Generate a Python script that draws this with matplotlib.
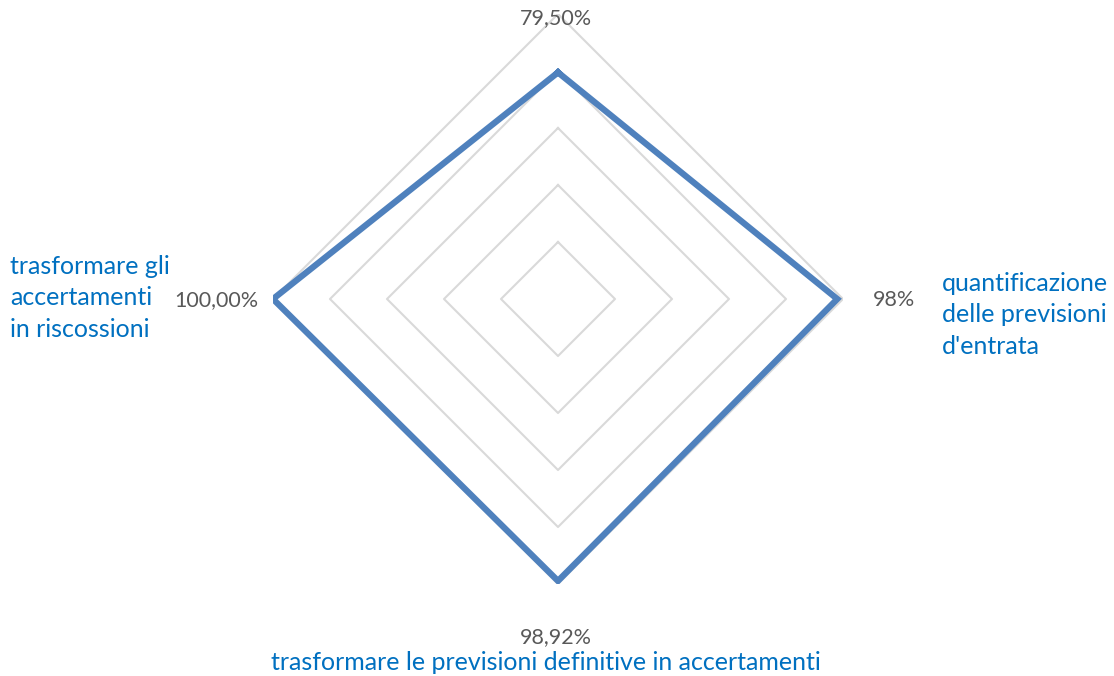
import numpy as np
import matplotlib
matplotlib.use("Agg")
import matplotlib.pyplot as plt

categories = ["79,50%", "98%", "98,92%", "100,00%"]
values = [0.795, 0.98, 0.9892, 1.0]
value_labels = ["79,50%", "98%", "98,92%", "100,00%"]
grid_levels = [0.2, 0.4, 0.6, 0.8, 1.0]
cat_right = "quantificazione\ndelle previsioni\nd'entrata"
cat_bottom = "trasformare le previsioni definitive in accertamenti"
cat_left = "trasformare gli\naccertamenti\nin riscossioni"

plt.rcParams['font.family'] = ['Lato', 'DejaVu Sans']

W, H = 1114, 676
fig = plt.figure(figsize=(W / 100, H / 100), dpi=100)
cx, cy, R = 558, 299, 285
ax = fig.add_axes([(cx - R) / W, 1 - (cy + R) / H, 2 * R / W, 2 * R / H], projection='polar')
ax.set_theta_offset(np.pi / 2)
ax.set_theta_direction(-1)
ax.set_ylim(0, 1)
ax.axis('off')

n = len(values)
angles = np.linspace(0, 2 * np.pi, n, endpoint=False)
ang_c = np.concatenate([angles, angles[:1]])

for lv in grid_levels:
    ax.plot(ang_c, [lv] * (n + 1), color='#D9D9D9', lw=1.5, zorder=1)

v_c = np.concatenate([values, values[:1]])
ax.plot(ang_c, v_c, color='#4F81BD', lw=4.5, zorder=3, solid_joinstyle='miter')

gray = '#595959'
blue = '#0070C0'
fs_val = 15.5
fs_cat = 18
fig.text(556 / W, 1 - 18 / H, value_labels[0], ha='center', va='center', color=gray, fontsize=fs_val)
fig.text(873 / W, 1 - 300 / H, value_labels[1], ha='left', va='center', color=gray, fontsize=fs_val)
fig.text(556 / W, 1 - 637 / H, value_labels[2], ha='center', va='center', color=gray, fontsize=fs_val)
fig.text(258 / W, 1 - 300 / H, value_labels[3], ha='right', va='center', color=gray, fontsize=fs_val)

fig.text(546 / W, 1 - 663 / H, cat_bottom, ha='center', va='center', color=blue, fontsize=fs_cat)
fig.text(10 / W, 1 - 298 / H, cat_left, ha='left', va='center', color=blue, fontsize=fs_cat, linespacing=1.45)
fig.text(942 / W, 1 - 315 / H, cat_right, ha='left', va='center', color=blue, fontsize=fs_cat, linespacing=1.45)

fig.savefig('out.png', dpi=100)
